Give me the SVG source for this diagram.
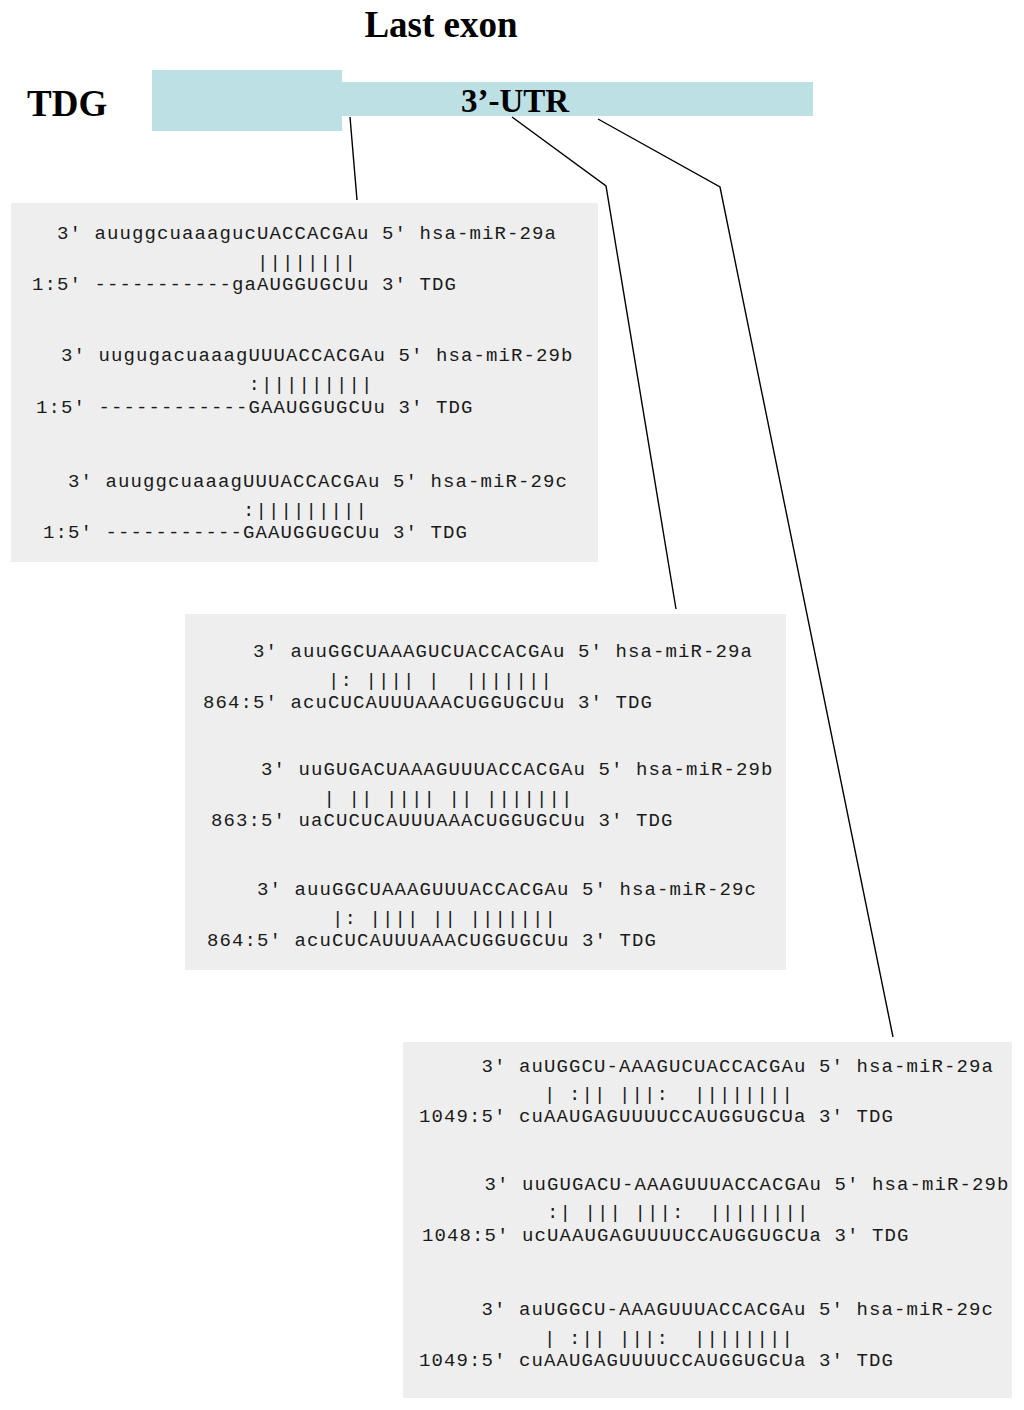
<svg xmlns="http://www.w3.org/2000/svg" width="1024" height="1410" viewBox="0 0 1024 1410">
<style>
.title{font-family:"Liberation Serif","Times New Roman",serif;font-weight:bold;fill:#000}
.box{fill:#eeeeee}
.seq{font-family:"Liberation Mono","Courier New",monospace;font-size:19px;letter-spacing:1.1px;fill:#1a1a1a}
.conn{stroke:#000;stroke-width:1.4;fill:none}
</style>
<rect width="1024" height="1410" fill="#ffffff"/>
<g id="title">
<text class="title" x="441" y="37" font-size="37" text-anchor="middle">Last exon</text>
</g>
<g id="gene-label">
<text class="title" x="27" y="116" font-size="37">TDG</text>
</g>
<g id="gene-bar">
<rect x="152" y="70" width="190" height="61" fill="#bce0e3"/>
<rect x="341" y="82" width="472" height="34" fill="#bce0e3"/>
<text class="title" x="515" y="112" font-size="33" text-anchor="middle">3’-UTR</text>
</g>
<g id="connectors">
<polyline class="conn" points="350,117 357,200"/>
<polyline class="conn" points="512,117 606,186 676,609"/>
<polyline class="conn" points="598,119 720,187 893,1037"/>
</g>
<g id="site1">
<rect class="box" x="11" y="203" width="587" height="359"/>
<text class="seq" xml:space="preserve" x="32" y="239">  3' auuggcuaaagucUACCACGAu 5' hsa-miR-29a</text>
<text class="seq" xml:space="preserve" x="32" y="268">                  ||||||||</text>
<text class="seq" xml:space="preserve" x="32" y="290">1:5' -----------gaAUGGUGCUu 3' TDG</text>
<text class="seq" xml:space="preserve" x="36" y="361">  3' uugugacuaaagUUUACCACGAu 5' hsa-miR-29b</text>
<text class="seq" xml:space="preserve" x="36" y="390">                 :|||||||||</text>
<text class="seq" xml:space="preserve" x="36" y="413">1:5' ------------GAAUGGUGCUu 3' TDG</text>
<text class="seq" xml:space="preserve" x="43" y="487">  3' auuggcuaaagUUUACCACGAu 5' hsa-miR-29c</text>
<text class="seq" xml:space="preserve" x="43" y="516">                :|||||||||</text>
<text class="seq" xml:space="preserve" x="43" y="538">1:5' -----------GAAUGGUGCUu 3' TDG</text>
</g>
<g id="site2">
<rect class="box" x="185" y="614" width="601" height="356"/>
<text class="seq" xml:space="preserve" x="203" y="657">    3' auuGGCUAAAGUCUACCACGAu 5' hsa-miR-29a</text>
<text class="seq" xml:space="preserve" x="203" y="686">          |: |||| |  |||||||</text>
<text class="seq" xml:space="preserve" x="203" y="708">864:5' acuCUCAUUUAAACUGGUGCUu 3' TDG</text>
<text class="seq" xml:space="preserve" x="211" y="775">    3' uuGUGACUAAAGUUUACCACGAu 5' hsa-miR-29b</text>
<text class="seq" xml:space="preserve" x="211" y="804">         | || |||| || |||||||</text>
<text class="seq" xml:space="preserve" x="211" y="826">863:5' uaCUCUCAUUUAAACUGGUGCUu 3' TDG</text>
<text class="seq" xml:space="preserve" x="207" y="895">    3' auuGGCUAAAGUUUACCACGAu 5' hsa-miR-29c</text>
<text class="seq" xml:space="preserve" x="207" y="924">          |: |||| || |||||||</text>
<text class="seq" xml:space="preserve" x="207" y="946">864:5' acuCUCAUUUAAACUGGUGCUu 3' TDG</text>
</g>
<g id="site3">
<rect class="box" x="403" y="1042" width="609" height="356"/>
<text class="seq" xml:space="preserve" x="419" y="1072">     3' auUGGCU-AAAGUCUACCACGAu 5' hsa-miR-29a</text>
<text class="seq" xml:space="preserve" x="419" y="1100">          | :|| |||:  ||||||||</text>
<text class="seq" xml:space="preserve" x="419" y="1122">1049:5' cuAAUGAGUUUUCCAUGGUGCUa 3' TDG</text>
<text class="seq" xml:space="preserve" x="422" y="1190">     3' uuGUGACU-AAAGUUUACCACGAu 5' hsa-miR-29b</text>
<text class="seq" xml:space="preserve" x="422" y="1218">          :| ||| |||:  ||||||||</text>
<text class="seq" xml:space="preserve" x="422" y="1241">1048:5' ucUAAUGAGUUUUCCAUGGUGCUa 3' TDG</text>
<text class="seq" xml:space="preserve" x="419" y="1315">     3' auUGGCU-AAAGUUUACCACGAu 5' hsa-miR-29c</text>
<text class="seq" xml:space="preserve" x="419" y="1344">          | :|| |||:  ||||||||</text>
<text class="seq" xml:space="preserve" x="419" y="1366">1049:5' cuAAUGAGUUUUCCAUGGUGCUa 3' TDG</text>
</g>
</svg>
